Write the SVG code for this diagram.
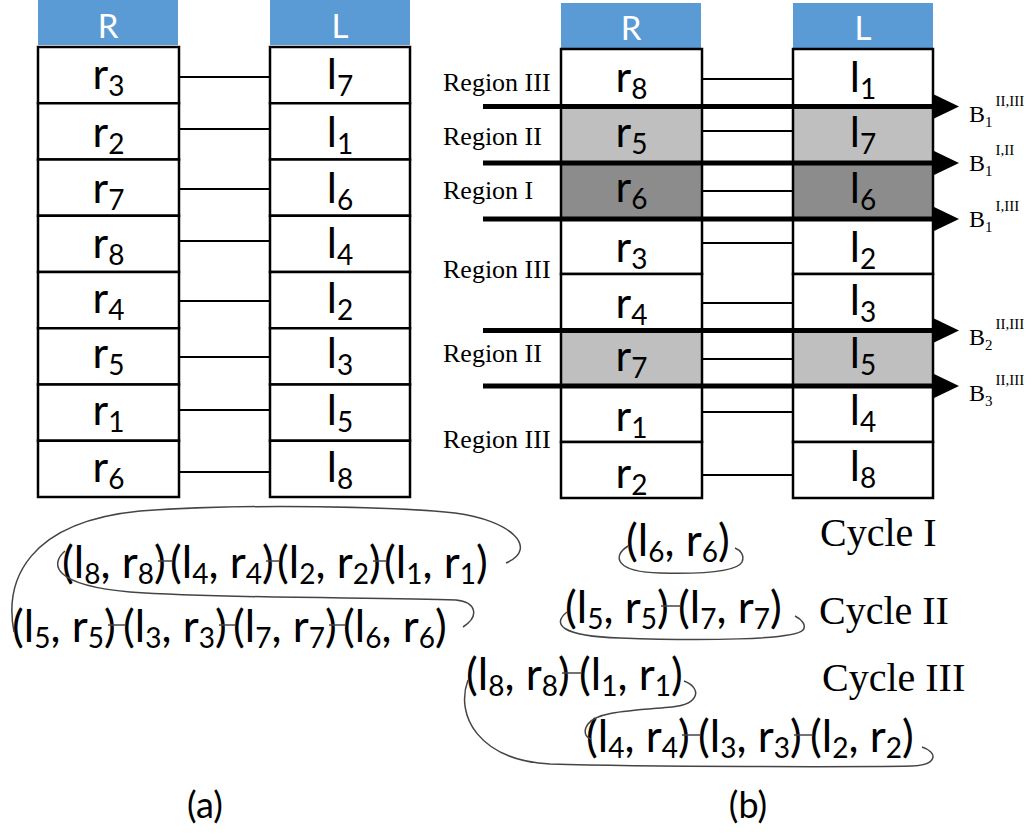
<svg xmlns="http://www.w3.org/2000/svg" width="1032" height="835" viewBox="0 0 1032 835">
<style>
.cell{fill:#fff;stroke:#000;stroke-width:2.5}
.lg{fill:#bfbfbf}
.dg{fill:#8c8c8c}
.hdr{fill:#5b9bd5}
.ht{font-family:Lato,"Liberation Sans",sans-serif;font-size:33px;fill:#fff;text-anchor:middle}
.t{font-family:Lato,"Liberation Sans",sans-serif;font-size:43px;fill:#000;text-anchor:middle}
.p{font-family:Lato,"Liberation Sans",sans-serif;font-size:44px;fill:#000}
.s{font-size:28px}
.c{stroke:#000;stroke-width:2;fill:none}
.bar{stroke:#000;stroke-width:5;fill:none}
.rg{font-family:"Liberation Serif",serif;font-size:26px;fill:#000}
.cy{font-family:"Liberation Serif",serif;font-size:40px;fill:#000}
.b{font-family:"Liberation Serif",serif;font-size:24px;fill:#000}
.bs{font-size:15px}
.cv{stroke:#444;stroke-width:1.5;fill:none}
.tk{stroke:#444;stroke-width:1.5}
.cap{font-family:Lato,"Liberation Sans",sans-serif;font-size:36px;fill:#000;text-anchor:middle}
</style>

<!-- (a) headers -->
<g id="a-hdr-R"><rect class="hdr" x="38" y="0" width="140" height="45"/><text class="ht" x="108" y="38">R</text></g>
<g id="a-hdr-L"><rect class="hdr" x="270" y="0" width="140" height="45"/><text class="ht" x="340" y="38">L</text></g>

<!-- (a) R column -->
<g id="a-r3"><rect class="cell" x="38" y="47" width="141" height="56.25"/><text class="t" x="108.5" y="89">r<tspan class="s" dy="7">3</tspan></text></g>
<g id="a-r2"><rect class="cell" x="38" y="103.25" width="141" height="56.25"/><text class="t" x="108.5" y="147">r<tspan class="s" dy="7">2</tspan></text></g>
<g id="a-r7"><rect class="cell" x="38" y="159.5" width="141" height="56.25"/><text class="t" x="108.5" y="203">r<tspan class="s" dy="7">7</tspan></text></g>
<g id="a-r8"><rect class="cell" x="38" y="215.75" width="141" height="56.25"/><text class="t" x="108.5" y="258">r<tspan class="s" dy="7">8</tspan></text></g>
<g id="a-r4"><rect class="cell" x="38" y="272" width="141" height="56.25"/><text class="t" x="108.5" y="313">r<tspan class="s" dy="7">4</tspan></text></g>
<g id="a-r5"><rect class="cell" x="38" y="328.25" width="141" height="56.25"/><text class="t" x="108.5" y="368">r<tspan class="s" dy="7">5</tspan></text></g>
<g id="a-r1"><rect class="cell" x="38" y="384.5" width="141" height="56.25"/><text class="t" x="108.5" y="425">r<tspan class="s" dy="7">1</tspan></text></g>
<g id="a-r6"><rect class="cell" x="38" y="440.75" width="141" height="56.25"/><text class="t" x="108.5" y="482">r<tspan class="s" dy="7">6</tspan></text></g>

<!-- (a) L column -->
<g id="a-l7"><rect class="cell" x="270" y="47" width="140" height="56.25"/><text class="t" x="340" y="89">l<tspan class="s" dy="7">7</tspan></text></g>
<g id="a-l1"><rect class="cell" x="270" y="103.25" width="140" height="56.25"/><text class="t" x="340" y="147">l<tspan class="s" dy="7">1</tspan></text></g>
<g id="a-l6"><rect class="cell" x="270" y="159.5" width="140" height="56.25"/><text class="t" x="340" y="203">l<tspan class="s" dy="7">6</tspan></text></g>
<g id="a-l4"><rect class="cell" x="270" y="215.75" width="140" height="56.25"/><text class="t" x="340" y="258">l<tspan class="s" dy="7">4</tspan></text></g>
<g id="a-l2"><rect class="cell" x="270" y="272" width="140" height="56.25"/><text class="t" x="340" y="313">l<tspan class="s" dy="7">2</tspan></text></g>
<g id="a-l3"><rect class="cell" x="270" y="328.25" width="140" height="56.25"/><text class="t" x="340" y="368">l<tspan class="s" dy="7">3</tspan></text></g>
<g id="a-l5"><rect class="cell" x="270" y="384.5" width="140" height="56.25"/><text class="t" x="340" y="425">l<tspan class="s" dy="7">5</tspan></text></g>
<g id="a-l8"><rect class="cell" x="270" y="440.75" width="140" height="56.25"/><text class="t" x="340" y="482">l<tspan class="s" dy="7">8</tspan></text></g>

<!-- (a) connectors -->
<g id="a-connectors">
<line class="c" x1="179" y1="77" x2="270" y2="77"/>
<line class="c" x1="179" y1="129" x2="270" y2="129"/>
<line class="c" x1="179" y1="189" x2="270" y2="189"/>
<line class="c" x1="179" y1="241" x2="270" y2="241"/>
<line class="c" x1="179" y1="301" x2="270" y2="301"/>
<line class="c" x1="179" y1="357" x2="270" y2="357"/>
<line class="c" x1="179" y1="410" x2="270" y2="410"/>
<line class="c" x1="179" y1="472" x2="270" y2="472"/>
</g>

<!-- (b) headers -->
<g id="b-hdr-R"><rect class="hdr" x="561" y="3" width="140" height="45"/><text class="ht" x="631" y="40">R</text></g>
<g id="b-hdr-L"><rect class="hdr" x="793" y="3" width="140" height="45"/><text class="ht" x="863" y="40">L</text></g>

<!-- (b) R column -->
<g id="b-r8"><rect class="cell" x="561" y="49" width="141" height="57"/><text class="t" x="631.5" y="92">r<tspan class="s" dy="7">8</tspan></text></g>
<g id="b-r5"><rect class="cell lg" x="561" y="106" width="141" height="57"/><text class="t" x="631.5" y="147">r<tspan class="s" dy="7">5</tspan></text></g>
<g id="b-r6"><rect class="cell dg" x="561" y="163" width="141" height="56"/><text class="t" x="631.5" y="202">r<tspan class="s" dy="7">6</tspan></text></g>
<g id="b-r3"><rect class="cell" x="561" y="219" width="141" height="55"/><text class="t" x="631.5" y="262">r<tspan class="s" dy="7">3</tspan></text></g>
<g id="b-r4"><rect class="cell" x="561" y="274" width="141" height="56"/><text class="t" x="631.5" y="318">r<tspan class="s" dy="7">4</tspan></text></g>
<g id="b-r7"><rect class="cell lg" x="561" y="330" width="141" height="56"/><text class="t" x="631.5" y="371">r<tspan class="s" dy="7">7</tspan></text></g>
<g id="b-r1"><rect class="cell" x="561" y="386" width="141" height="56"/><text class="t" x="631.5" y="431">r<tspan class="s" dy="7">1</tspan></text></g>
<g id="b-r2"><rect class="cell" x="561" y="442" width="141" height="56"/><text class="t" x="631.5" y="488">r<tspan class="s" dy="7">2</tspan></text></g>

<!-- (b) L column -->
<g id="b-l1"><rect class="cell" x="793" y="49" width="140" height="57"/><text class="t" x="863" y="92">l<tspan class="s" dy="7">1</tspan></text></g>
<g id="b-l7"><rect class="cell lg" x="793" y="106" width="140" height="57"/><text class="t" x="863" y="147">l<tspan class="s" dy="7">7</tspan></text></g>
<g id="b-l6"><rect class="cell dg" x="793" y="163" width="140" height="56"/><text class="t" x="863" y="203">l<tspan class="s" dy="7">6</tspan></text></g>
<g id="b-l2"><rect class="cell" x="793" y="219" width="140" height="55"/><text class="t" x="863" y="262">l<tspan class="s" dy="7">2</tspan></text></g>
<g id="b-l3"><rect class="cell" x="793" y="274" width="140" height="56"/><text class="t" x="863" y="315">l<tspan class="s" dy="7">3</tspan></text></g>
<g id="b-l5"><rect class="cell lg" x="793" y="330" width="140" height="56"/><text class="t" x="863" y="368">l<tspan class="s" dy="7">5</tspan></text></g>
<g id="b-l4"><rect class="cell" x="793" y="386" width="140" height="56"/><text class="t" x="863" y="425">l<tspan class="s" dy="7">4</tspan></text></g>
<g id="b-l8"><rect class="cell" x="793" y="442" width="140" height="56"/><text class="t" x="863" y="481">l<tspan class="s" dy="7">8</tspan></text></g>

<!-- (b) connectors -->
<g id="b-connectors">
<line class="c" x1="702" y1="79" x2="793" y2="79"/>
<line class="c" x1="702" y1="131" x2="793" y2="131"/>
<line class="c" x1="702" y1="191" x2="793" y2="191"/>
<line class="c" x1="702" y1="243" x2="793" y2="243"/>
<line class="c" x1="702" y1="303" x2="793" y2="303"/>
<line class="c" x1="702" y1="359" x2="793" y2="359"/>
<line class="c" x1="702" y1="412" x2="793" y2="412"/>
<line class="c" x1="702" y1="475" x2="793" y2="475"/>
</g>

<!-- boundary bars with arrows -->
<g id="b-boundaries">
<line class="bar" x1="483" y1="106.5" x2="935" y2="106.5"/>
<polygon points="933,94 959,106.5 933,119"/>
<line class="bar" x1="483" y1="163" x2="935" y2="163"/>
<polygon points="933,150.5 959,163 933,175.5"/>
<line class="bar" x1="483" y1="219" x2="935" y2="219"/>
<polygon points="933,206.5 959,219 933,231.5"/>
<line class="bar" x1="483" y1="330.5" x2="935" y2="330.5"/>
<polygon points="933,318 959,330.5 933,343"/>
<line class="bar" x1="483" y1="386" x2="935" y2="386"/>
<polygon points="933,373.5 959,386 933,398.5"/>
</g>

<!-- region labels -->
<g id="region-labels">
<text class="rg" x="443" y="91">Region III</text>
<text class="rg" x="443" y="145">Region II</text>
<text class="rg" x="443" y="199">Region I</text>
<text class="rg" x="443" y="278">Region III</text>
<text class="rg" x="443" y="362">Region II</text>
<text class="rg" x="443" y="448">Region III</text>
</g>

<!-- boundary labels -->
<g id="boundary-labels">
<text class="b" x="969" y="122">B<tspan class="bs" dy="5">1</tspan><tspan class="bs" dx="3" dy="-21">II,III</tspan></text>
<text class="b" x="969" y="171">B<tspan class="bs" dy="5">1</tspan><tspan class="bs" dx="3" dy="-21">I,II</tspan></text>
<text class="b" x="969" y="227">B<tspan class="bs" dy="5">1</tspan><tspan class="bs" dx="3" dy="-21">I,III</tspan></text>
<text class="b" x="969" y="345">B<tspan class="bs" dy="5">2</tspan><tspan class="bs" dx="3" dy="-21">II,III</tspan></text>
<text class="b" x="969" y="401">B<tspan class="bs" dy="5">3</tspan><tspan class="bs" dx="3" dy="-21">II,III</tspan></text>
</g>

<!-- (a) cycle -->
<g id="a-cycle">
<text class="p" x="62" y="578">(l<tspan class="s" dy="6">8</tspan><tspan dy="-6">, r</tspan><tspan class="s" dy="6">8</tspan><tspan dy="-6">)</tspan></text>
<text class="p" x="170" y="578">(l<tspan class="s" dy="6">4</tspan><tspan dy="-6">, r</tspan><tspan class="s" dy="6">4</tspan><tspan dy="-6">)</tspan></text>
<text class="p" x="277" y="578">(l<tspan class="s" dy="6">2</tspan><tspan dy="-6">, r</tspan><tspan class="s" dy="6">2</tspan><tspan dy="-6">)</tspan></text>
<text class="p" x="384" y="578">(l<tspan class="s" dy="6">1</tspan><tspan dy="-6">, r</tspan><tspan class="s" dy="6">1</tspan><tspan dy="-6">)</tspan></text>
<text class="p" x="12" y="642">(l<tspan class="s" dy="6">5</tspan><tspan dy="-6">, r</tspan><tspan class="s" dy="6">5</tspan><tspan dy="-6">)</tspan></text>
<text class="p" x="123" y="642">(l<tspan class="s" dy="6">3</tspan><tspan dy="-6">, r</tspan><tspan class="s" dy="6">3</tspan><tspan dy="-6">)</tspan></text>
<text class="p" x="233" y="642">(l<tspan class="s" dy="6">7</tspan><tspan dy="-6">, r</tspan><tspan class="s" dy="6">7</tspan><tspan dy="-6">)</tspan></text>
<text class="p" x="343" y="642">(l<tspan class="s" dy="6">6</tspan><tspan dy="-6">, r</tspan><tspan class="s" dy="6">6</tspan><tspan dy="-6">)</tspan></text>
<line class="tk" x1="158" y1="561" x2="173" y2="561"/>
<line class="tk" x1="266" y1="561" x2="280" y2="561"/>
<line class="tk" x1="373" y1="561" x2="387" y2="561"/>
<line class="tk" x1="108" y1="625" x2="126" y2="625"/>
<line class="tk" x1="219" y1="625" x2="236" y2="625"/>
<line class="tk" x1="329" y1="625" x2="346" y2="625"/>
<path class="cv" d="M 14,632 C 4,580 28,522 140,511 C 250,503 400,507 455,513 C 510,520 540,548 506,563"/>
<path class="cv" d="M 65,551 C 50,564 52,585 130,592 C 230,599 380,597 456,600 C 476,602 480,616 463,627"/>
</g>

<!-- (b) cycles -->
<g id="b-cycle-I">
<text class="p" x="626" y="556">(l<tspan class="s" dy="6">6</tspan><tspan dy="-6">, r</tspan><tspan class="s" dy="6">6</tspan><tspan dy="-6">)</tspan></text>
<path class="cv" d="M 628,546 C 612,556 615,572 660,573 C 700,574 737,572 742,562 C 745,555 740,550 735,548"/>
<text class="cy" x="820" y="546">Cycle I</text>
</g>
<g id="b-cycle-II">
<text class="p" x="565" y="623">(l<tspan class="s" dy="6">5</tspan><tspan dy="-6">, r</tspan><tspan class="s" dy="6">5</tspan><tspan dy="-6">)</tspan></text>
<text class="p" x="678" y="623">(l<tspan class="s" dy="6">7</tspan><tspan dy="-6">, r</tspan><tspan class="s" dy="6">7</tspan><tspan dy="-6">)</tspan></text>
<line class="tk" x1="661" y1="606" x2="681" y2="606"/>
<path class="cv" d="M 567,612 C 552,624 560,636 620,638 C 700,641 795,640 803,630 C 807,625 801,619 795,616"/>
<text class="cy" x="819" y="624">Cycle II</text>
</g>
<g id="b-cycle-III">
<text class="p" x="466" y="690">(l<tspan class="s" dy="6">8</tspan><tspan dy="-6">, r</tspan><tspan class="s" dy="6">8</tspan><tspan dy="-6">)</tspan></text>
<text class="p" x="579" y="690">(l<tspan class="s" dy="6">1</tspan><tspan dy="-6">, r</tspan><tspan class="s" dy="6">1</tspan><tspan dy="-6">)</tspan></text>
<line class="tk" x1="562" y1="673" x2="582" y2="673"/>
<text class="p" x="586" y="752">(l<tspan class="s" dy="6">4</tspan><tspan dy="-6">, r</tspan><tspan class="s" dy="6">4</tspan><tspan dy="-6">)</tspan></text>
<text class="p" x="698" y="752">(l<tspan class="s" dy="6">3</tspan><tspan dy="-6">, r</tspan><tspan class="s" dy="6">3</tspan><tspan dy="-6">)</tspan></text>
<text class="p" x="810" y="752">(l<tspan class="s" dy="6">2</tspan><tspan dy="-6">, r</tspan><tspan class="s" dy="6">2</tspan><tspan dy="-6">)</tspan></text>
<line class="tk" x1="682" y1="735" x2="701" y2="735"/>
<line class="tk" x1="794" y1="735" x2="813" y2="735"/>
<path class="cv" d="M 684,681 C 702,688 700,704 672,707 C 627,711 597,712 588,724 C 583,731 585,737 591,739"/>
<path class="cv" d="M 468,680 C 455,715 478,760 550,764 C 650,767 860,767 912,766 C 938,765 938,752 922,747"/>
<text class="cy" x="822" y="691">Cycle III</text>
</g>

<!-- captions -->
<text class="cap" x="205" y="818">(a)</text>
<text class="cap" x="748" y="818">(b)</text>
</svg>
